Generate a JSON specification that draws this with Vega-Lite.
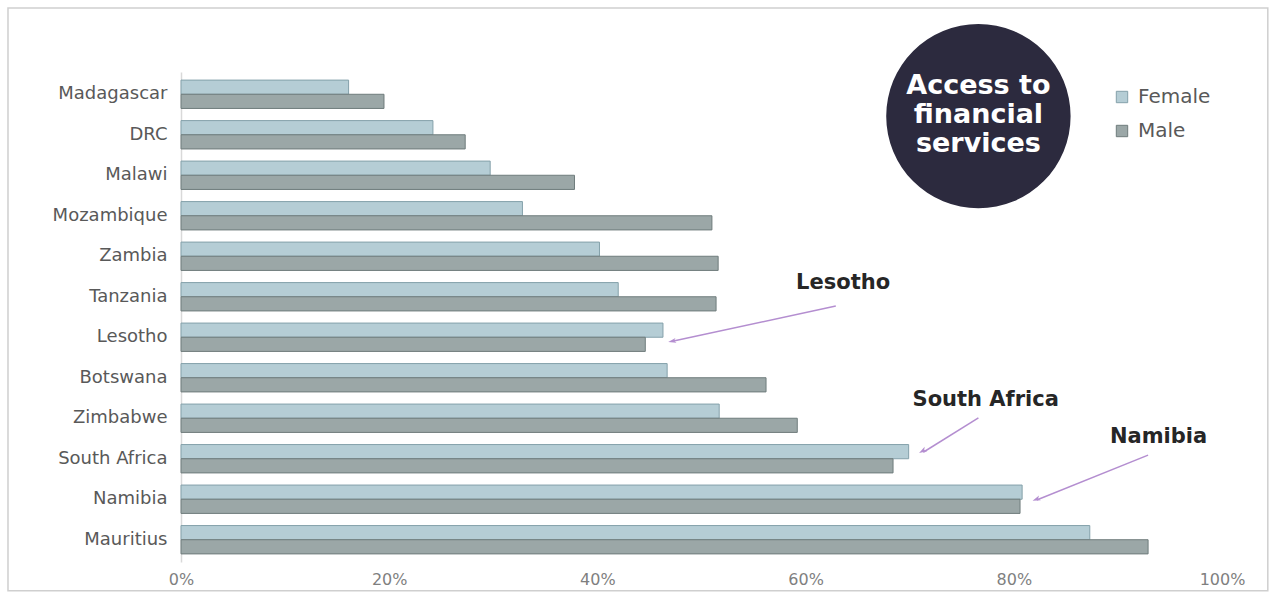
{
  "$schema": "https://vega.github.io/schema/vega-lite/v6.json",
  "width": 1041,
  "height": 490,
  "autosize": {"type": "none"},
  "padding": {"left": 181, "top": 72, "right": 53, "bottom": 37},
  "background": "white",
  "config": {"view": {"stroke": null}, "font": "DejaVu Sans"},
  "layer": [
    {
      "data": {
        "values": [
          {"country": "Madagascar", "sex": "Female", "value": 0.161},
          {"country": "Madagascar", "sex": "Male", "value": 0.195},
          {"country": "DRC", "sex": "Female", "value": 0.242},
          {"country": "DRC", "sex": "Male", "value": 0.273},
          {"country": "Malawi", "sex": "Female", "value": 0.297},
          {"country": "Malawi", "sex": "Male", "value": 0.378},
          {"country": "Mozambique", "sex": "Female", "value": 0.328},
          {"country": "Mozambique", "sex": "Male", "value": 0.51},
          {"country": "Zambia", "sex": "Female", "value": 0.402},
          {"country": "Zambia", "sex": "Male", "value": 0.516},
          {"country": "Tanzania", "sex": "Female", "value": 0.42},
          {"country": "Tanzania", "sex": "Male", "value": 0.514},
          {"country": "Lesotho", "sex": "Female", "value": 0.463},
          {"country": "Lesotho", "sex": "Male", "value": 0.446},
          {"country": "Botswana", "sex": "Female", "value": 0.467},
          {"country": "Botswana", "sex": "Male", "value": 0.562},
          {"country": "Zimbabwe", "sex": "Female", "value": 0.517},
          {"country": "Zimbabwe", "sex": "Male", "value": 0.592},
          {"country": "South Africa", "sex": "Female", "value": 0.699},
          {"country": "South Africa", "sex": "Male", "value": 0.684},
          {"country": "Namibia", "sex": "Female", "value": 0.808},
          {"country": "Namibia", "sex": "Male", "value": 0.806},
          {"country": "Mauritius", "sex": "Female", "value": 0.873},
          {"country": "Mauritius", "sex": "Male", "value": 0.929}
        ]
      },
      "mark": {"type": "bar", "strokeWidth": 1},
      "encoding": {
        "y": {
          "field": "country",
          "type": "nominal",
          "sort": ["Madagascar", "DRC", "Malawi", "Mozambique", "Zambia", "Tanzania", "Lesotho", "Botswana", "Zimbabwe", "South Africa", "Namibia", "Mauritius"],
          "scale": {"paddingInner": 0.3, "paddingOuter": 0.2},
          "axis": {"title": null, "ticks": false, "labelFontSize": 18, "labelColor": "#595959", "labelFont": "DejaVu Sans", "labelPadding": 14, "domainColor": "#d9d9d9", "domainWidth": 1.5}
        },
        "yOffset": {"field": "sex", "type": "nominal", "sort": ["Female", "Male"]},
        "x": {
          "field": "value",
          "type": "quantitative",
          "scale": {"domain": [0, 1], "nice": false, "zero": true},
          "axis": {"title": null, "format": ".0%", "values": [0, 0.2, 0.4, 0.6, 0.8, 1], "grid": false, "domain": false, "ticks": false, "labelFlush": false, "labelFontSize": 16, "labelColor": "#7f7f7f", "labelFont": "DejaVu Sans", "labelPadding": 9}
        },
        "color": {
          "field": "sex",
          "type": "nominal",
          "scale": {"domain": ["Female", "Male"], "range": ["#b5cdd5", "#9ba7a7"]},
          "legend": {"title": null, "orient": "none", "legendX": 931, "legendY": 15, "symbolType": "square", "symbolSize": 130, "labelFontSize": 20, "labelColor": "#595959", "labelFont": "DejaVu Sans", "rowPadding": 14, "labelOffset": 6, "padding": 0, "symbolStrokeColor": "#6f8a91", "symbolStrokeWidth": 1}
        },
        "stroke": {
          "field": "sex",
          "type": "nominal",
          "scale": {"domain": ["Female", "Male"], "range": ["#84a1aa", "#6f7c7c"]},
          "legend": null
        }
      }
    },
    {
      "data": {"values": [{}]},
      "layer": [
        {
          "mark": {"type": "rect", "fillOpacity": 0, "fill": "white", "stroke": "#cfcfcf", "strokeWidth": 1.5},
          "encoding": {
            "x": {"datum": -0.1662, "type": "quantitative"},
            "x2": {"datum": 1.044},
            "y": {"datum": -2.13, "type": "quantitative", "scale": {"domain": [-0.55, 11.55], "reverse": true, "nice": false, "zero": false}, "axis": null},
            "y2": {"datum": 12.26}
          }
        },
        {
          "mark": {"type": "point", "shape": "circle", "filled": true, "size": 34000, "color": "#2c2a3e", "opacity": 1},
          "encoding": {
            "x": {"datum": 0.766, "type": "quantitative"},
            "y": {"datum": 0.54, "type": "quantitative"}
          }
        },
        {
          "mark": {"type": "text", "font": "DejaVu Sans", "fontWeight": "bold", "fontSize": 27, "color": "white", "align": "center", "baseline": "middle", "lineHeight": 29},
          "encoding": {
            "x": {"datum": 0.766, "type": "quantitative"},
            "y": {"datum": -0.205, "type": "quantitative"},
            "text": {"value": ["Access to", "financial", "services"]}
          }
        },
        {
          "mark": {"type": "rule", "color": "#b48ed0", "strokeWidth": 1.5},
          "encoding": {
            "x": {"datum": 0.629, "type": "quantitative"},
            "x2": {"datum": 0.472},
            "y": {"datum": 5.23, "type": "quantitative"},
            "y2": {"datum": 6.1}
          }
        },
        {
          "mark": {"type": "rule", "color": "#b48ed0", "strokeWidth": 1.5},
          "encoding": {
            "x": {"datum": 0.766, "type": "quantitative"},
            "x2": {"datum": 0.713},
            "y": {"datum": 7.99, "type": "quantitative"},
            "y2": {"datum": 8.84}
          }
        },
        {
          "mark": {"type": "rule", "color": "#b48ed0", "strokeWidth": 1.5},
          "encoding": {
            "x": {"datum": 0.929, "type": "quantitative"},
            "x2": {"datum": 0.822},
            "y": {"datum": 8.91, "type": "quantitative"},
            "y2": {"datum": 10.02}
          }
        },
        {
          "mark": {"type": "point", "shape": "M0,0L0.5,1.6L0,1.2L-0.5,1.6Z", "filled": true, "size": 100, "color": "#b48ed0", "opacity": 1, "angle": 257.9},
          "encoding": {
            "x": {"datum": 0.468, "type": "quantitative"},
            "y": {"datum": 6.12, "type": "quantitative"}
          }
        },
        {
          "mark": {"type": "point", "shape": "M0,0L0.5,1.6L0,1.2L-0.5,1.6Z", "filled": true, "size": 100, "color": "#b48ed0", "opacity": 1, "angle": 239.3},
          "encoding": {
            "x": {"datum": 0.709, "type": "quantitative"},
            "y": {"datum": 8.86, "type": "quantitative"}
          }
        },
        {
          "mark": {"type": "point", "shape": "M0,0L0.5,1.6L0,1.2L-0.5,1.6Z", "filled": true, "size": 100, "color": "#b48ed0", "opacity": 1, "angle": 248.2},
          "encoding": {
            "x": {"datum": 0.818, "type": "quantitative"},
            "y": {"datum": 10.04, "type": "quantitative"}
          }
        },
        {
          "mark": {"type": "text", "font": "DejaVu Sans", "fontWeight": "bold", "fontSize": 21, "color": "#262626", "align": "center", "baseline": "middle"},
          "encoding": {
            "x": {"datum": 0.636, "type": "quantitative"},
            "y": {"datum": 4.66, "type": "quantitative"},
            "text": {"value": "Lesotho"}
          }
        },
        {
          "mark": {"type": "text", "font": "DejaVu Sans", "fontWeight": "bold", "fontSize": 21, "color": "#262626", "align": "center", "baseline": "middle"},
          "encoding": {
            "x": {"datum": 0.773, "type": "quantitative"},
            "y": {"datum": 7.55, "type": "quantitative"},
            "text": {"value": "South Africa"}
          }
        },
        {
          "mark": {"type": "text", "font": "DejaVu Sans", "fontWeight": "bold", "fontSize": 21, "color": "#262626", "align": "center", "baseline": "middle"},
          "encoding": {
            "x": {"datum": 0.939, "type": "quantitative"},
            "y": {"datum": 8.46, "type": "quantitative"},
            "text": {"value": "Namibia"}
          }
        }
      ]
    }
  ],
  "resolve": {"scale": {"y": "independent"}}
}
